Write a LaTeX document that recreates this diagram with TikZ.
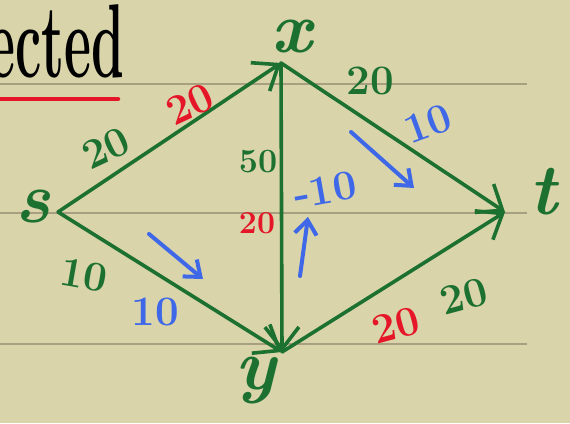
\documentclass[tikz,border=0pt]{standalone}
\usetikzlibrary{arrows.meta}
\definecolor{bgc}{RGB}{217,212,170}
\definecolor{ruleg}{RGB}{168,158,128}
\definecolor{gr}{RGB}{28,112,48}
\definecolor{rd}{RGB}{228,22,40}
\definecolor{bl}{RGB}{62,104,232}
\tikzset{
  edge/.style={draw=gr, line width=3.6pt, line cap=round, -{Straight Barb[length=22pt,width=34pt,line width=3.6pt]}},
  barrow/.style={draw=bl, line width=4pt, line cap=round, -{Straight Barb[length=14pt,width=22pt,line width=4pt]}},
  rulel/.style={draw=ruleg, line width=1.6pt},
  num/.style={font=\bfseries\fontsize{42}{42}\selectfont, inner sep=0pt},
  let/.style={font=\bfseries\itshape\fontsize{72}{72}\selectfont, text=gr, inner sep=0pt},
}
\begin{document}
\begin{tikzpicture}[x=1pt,y=-1pt]
\useasboundingbox (0,0) rectangle (570,423);
\clip (0,0) rectangle (570,423);
\fill[bgc] (0,0) rectangle (570,423);
% ruled lines
\coordinate (l1a) at (0,84);  \coordinate (l1b) at (527,84);
\coordinate (l2a) at (0,213); \coordinate (l2b) at (527,213);
\coordinate (l3a) at (0,344); \coordinate (l3b) at (527,344);
\draw[rulel] (l1a) -- (l1b);
\draw[rulel] (l2a) -- (l2b);
\draw[rulel] (l3a) -- (l3b);
% heading fragment
\node[anchor=base west, inner sep=0pt, yscale=1.5, xscale=0.75, font=\bfseries\fontsize{70}{70}\selectfont] (head) at (-12,77) {ected};
\coordinate (ula) at (0,99); \coordinate (ulb) at (118,99);
\draw[rd, line width=4.5pt, line cap=round] (ula) -- (ulb);
% vertices
\coordinate (s) at (58,212);
\coordinate (x) at (281,63);
\coordinate (t) at (505,212);
\coordinate (y) at (282,352);
\draw[edge] (s) -- (x);
\draw[edge] (s) -- (y);
\draw[edge] (x) -- (y);
\draw[edge] (x) -- (t);
\draw[edge] (y) -- (t);
% vertex labels
\node[let] (ls) at (33,207) {s};
\node[let] (lx) at (292,37) {x};
\node[let] (lt) at (543,192) {t};
\node[let] (ly) at (256,380) {y};
% edge labels
\node[num, text=gr, rotate=25] (g20a) at (106,148) {20};
\node[num, text=rd, rotate=25] (r20a) at (190,104) {20};
\node[num, text=gr, font=\bfseries\fontsize{34}{34}\selectfont] (g50) at (258,162) {50};
\node[num, text=rd, font=\bfseries\fontsize{32}{32}\selectfont] (r20b) at (257,223) {20};
\node[num, text=bl, rotate=10] (bm10) at (325,190) {-10};
\node[num, text=gr] (g20b) at (370,81) {20};
\node[num, text=bl, rotate=20] (b10a) at (428,124) {10};
\node[num, text=gr, rotate=-10] (g10) at (84,275) {10};
\node[num, text=bl] (b10b) at (155,312) {10};
\node[num, text=rd, rotate=15] (r20c) at (396,325) {20};
\node[num, text=gr, rotate=15] (g20c) at (464,296) {20};
% blue flow arrows
\coordinate (ba1s) at (149,234); \coordinate (ba1e) at (203,279);
\coordinate (ba2s) at (300,276); \coordinate (ba2e) at (308,217);
\coordinate (ba3s) at (351,132); \coordinate (ba3e) at (414,188);
\draw[barrow] (ba1s) -- (ba1e);
\draw[barrow] (ba2s) -- (ba2e);
\draw[barrow] (ba3s) -- (ba3e);
\end{tikzpicture}
\end{document}
